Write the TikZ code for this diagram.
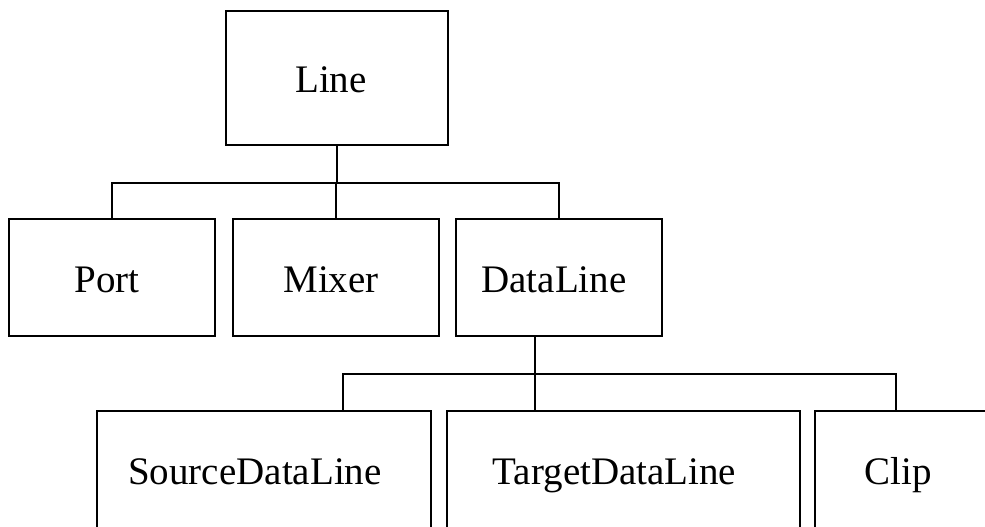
\documentclass[tikz,border=0pt]{standalone}
\usepackage{fontspec}
\setmainfont{Liberation Serif}

\begin{document}
\begin{tikzpicture}[
    x=1pt,  % one unit per point, measured from the top left corner
    y=-1pt, % y grows downwards
    every node/.style={font=\fontsize{39}{47}\selectfont},
    classbox/.style={draw, line width=1.8pt, inner sep=0pt,
        text height=33pt, text depth=4pt},
    link/.style={line width=1.8pt}
    ]

\useasboundingbox (0,0) rectangle (985,527);

% --- Root class ---
% (the trailing space nudges the label a little to the left)
\node[classbox, minimum width=222pt, minimum height=134pt] (line) at (337,78) {Line\hspace*{12pt}};

% --- Second level (name/text/centre) ---
\foreach \name/\txt/\cx in {port/Port/112, mixer/Mixer/336, dataline/DataLine/559} {
    \node[classbox, minimum width=206pt, minimum height=117pt] (\name) at (\cx,277.5) {\txt\hspace*{10pt}};
}

% --- Third level (name/text/centre/width) ---
% These run past the bottom and right edges of the page
\foreach \name/\txt/\cx/\w in {source/SourceDataLine/264/334pt, target/TargetDataLine/623.5/353pt, clip/Clip/907/184pt} {
    \node[classbox, minimum width=\w, minimum height=117pt] (\name) at (\cx,469.5) {\txt\hspace*{18pt}};
}

% --- Connections: Line to its subclasses ---
\draw[link] (line.south) -- ++(0,37) coordinate (bus1);
\foreach \name in {port, mixer, dataline} {
    \draw[link] (bus1) -| (\name.north);
}

% --- Connections: DataLine to its subclasses ---
\coordinate (bus2) at (535,374);
\draw[link] (bus2 |- dataline.south) -- (bus2);
\foreach \name/\dx in {source/343, target/535, clip/896} {
    \draw[link] (bus2) -| (\dx,0 |- \name.north);
}

\end{tikzpicture}
\end{document}
